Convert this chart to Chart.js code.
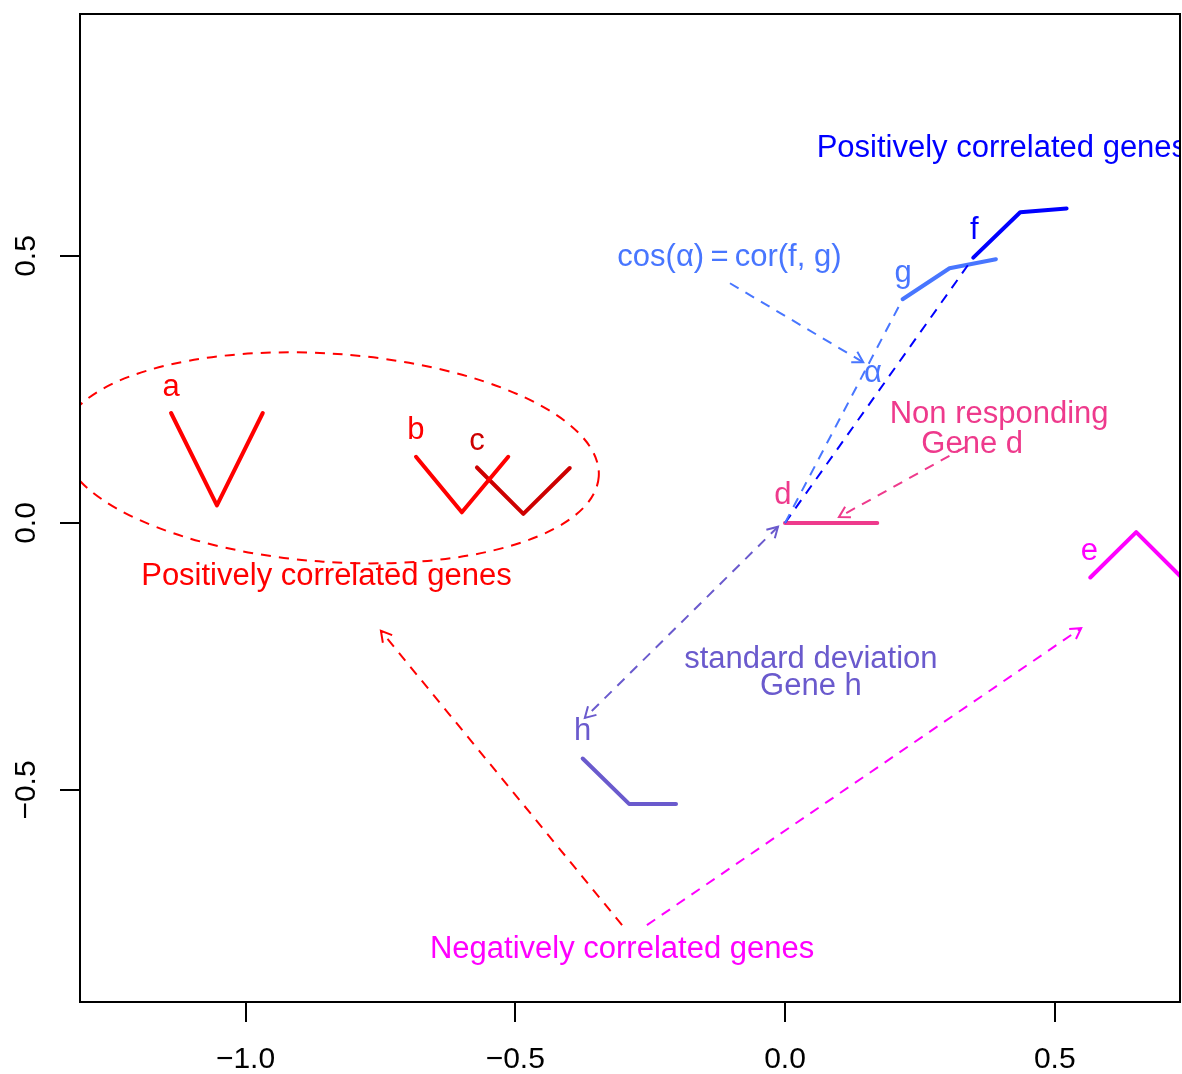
<!DOCTYPE html>
<html>
<head>
<meta charset="utf-8">
<script src="https://cdn.jsdelivr.net/npm/chart.js@4.4.1/dist/chart.umd.min.js"></script>
<style>
  html, body { margin: 0; padding: 0; background: #fff; }
  #wrap { width: 1182px; height: 1074px; }
</style>
</head>
<body>
<div id="wrap"><canvas id="genes"></canvas></div>
<script>
const FONT = '"Liberation Sans", Arial, Helvetica, sans-serif';

// axis ranges and tick positions
const xRange = [-1.3068, 0.7322];
const yRange = [-0.897, 0.9532];
const xTicks = [-1.0, -0.5, 0.0, 0.5];
const yTicks = [-0.5, 0.0, 0.5];

// expression profiles, three conditions per gene
const geneA = [[-1.138, 0.206], [-1.053, 0.033], [-0.968, 0.206]];
const geneB = [[-0.684, 0.124], [-0.599, 0.020], [-0.513, 0.124]];
const geneC = [[-0.571, 0.104], [-0.485, 0.017], [-0.399, 0.103]];
const geneD = [[0.000, 0.000], [0.085, 0.000], [0.171, 0.000]];
const geneE = [[0.566, -0.102], [0.651, -0.017], [0.736, -0.103]];
const geneF = [[0.349, 0.497], [0.436, 0.582], [0.522, 0.589]];
const geneG = [[0.218, 0.419], [0.305, 0.477], [0.391, 0.494]];
const geneH = [[-0.375, -0.441], [-0.289, -0.526], [-0.202, -0.526]];

// vectors from the origin to f and g
const vectorF = [[0, 0], [0.349, 0.497]];
const vectorG = [[0, 0], [0.218, 0.419]];

// arrows: [x0, y0, x1, y1], head at (x1, y1)
const arrowCos = [-0.102, 0.449, 0.145, 0.301];
const arrowD = [0.334, 0.142, 0.100, 0.011];
const arrowH = [-0.013, -0.007, -0.371, -0.365];
const arrowToA = [-0.302, -0.753, -0.749, -0.202];
const arrowToE = [-0.256, -0.753, 0.549, -0.197];

// cluster ellipse: centre x, centre y, semi-axis x, semi-axis y, tilt (deg)
const clusterEllipse = [-0.843, 0.122, 0.499, 0.195, 4];

// text labels: [text, x, y (baseline), colour key]
const labels = [
  ['a', -1.138, 0.238, 'red'],
  ['b', -0.684, 0.157, 'red'],
  ['c', -0.571, 0.137, 'red3'],
  ['d', -0.004, 0.036, 'violet'],
  ['e', 0.564, -0.069, 'magenta'],
  ['f', 0.351, 0.532, 'blue'],
  ['g', 0.219, 0.451, 'royal'],
  ['h', -0.375, -0.406, 'slate'],
  ['\u03b1', 0.163, 0.264, 'royal'],
  ['cos(\u03b1)\u2009=\u2009cor(f, g)', -0.103, 0.481, 'royal'],
  ['Positively correlated genes', 0.402, 0.685, 'blue'],
  ['Positively correlated genes', -0.850, -0.116, 'red'],
  ['Non responding', 0.397, 0.187, 'violet'],
  ['Gene d', 0.347, 0.131, 'violet'],
  ['standard deviation', 0.048, -0.272, 'slate'],
  ['Gene h', 0.048, -0.322, 'slate'],
  ['Negatively correlated genes', -0.302, -0.815, 'magenta'],
];

const COLORS = {
  red: '#FF0000', red3: '#CD0000', violet: '#EE3A8C', magenta: '#FF00FF',
  blue: '#0000FF', royal: '#4876FF', slate: '#6A5ACD',
};
const DASH = [10, 8];

const toPts = arr => arr.map(([x, y]) => ({ x, y }));

function geneLine(data, color) {
  return {
    data: toPts(data), showLine: true, borderColor: color, borderWidth: 4,
    pointRadius: 0, borderCapStyle: 'round', borderJoinStyle: 'round', clip: 0,
  };
}

function dashLine(data, color) {
  return {
    data: toPts(data), showLine: true, borderColor: color, borderWidth: 2,
    borderDash: DASH, pointRadius: 0, borderCapStyle: 'butt', clip: 0,
  };
}

const seg = a => [[a[0], a[1]], [a[2], a[3]]];

const arrows = [
  [arrowCos, COLORS.royal, false],
  [arrowD, COLORS.violet, false],
  [arrowH, COLORS.slate, true],
  [arrowToA, COLORS.red, false],
  [arrowToE, COLORS.magenta, false],
];

function drawHead(ctx, x0, y0, x1, y1) {
  const ang = Math.atan2(y1 - y0, x1 - x0);
  const len = 12, spread = Math.PI / 6;
  ctx.beginPath();
  ctx.moveTo(x1 - len * Math.cos(ang - spread), y1 - len * Math.sin(ang - spread));
  ctx.lineTo(x1, y1);
  ctx.lineTo(x1 - len * Math.cos(ang + spread), y1 - len * Math.sin(ang + spread));
  ctx.stroke();
}

const decorations = {
  id: 'decorations',
  afterDatasetsDraw(chart) {
    const { ctx, chartArea: ca, scales: { x, y } } = chart;

    ctx.save();
    ctx.beginPath();
    ctx.rect(ca.left, ca.top, ca.right - ca.left, ca.bottom - ca.top);
    ctx.clip();

    // dashed ellipse around the positively correlated cluster
    const [ex, ey, ax, ay, tilt] = clusterEllipse;
    const cx = x.getPixelForValue(ex), cy = y.getPixelForValue(ey);
    const rx = Math.abs(x.getPixelForValue(ex + ax) - cx);
    const ry = Math.abs(y.getPixelForValue(ey + ay) - cy);
    ctx.strokeStyle = COLORS.red;
    ctx.lineWidth = 2;
    ctx.setLineDash(DASH);
    ctx.beginPath();
    ctx.ellipse(cx, cy, rx, ry, tilt * Math.PI / 180, 0, Math.PI * 2);
    ctx.stroke();
    ctx.setLineDash([]);

    // arrow heads
    arrows.forEach(([a, color, both]) => {
      const p0 = [x.getPixelForValue(a[0]), y.getPixelForValue(a[1])];
      const p1 = [x.getPixelForValue(a[2]), y.getPixelForValue(a[3])];
      ctx.strokeStyle = color;
      ctx.lineWidth = 2;
      drawHead(ctx, p0[0], p0[1], p1[0], p1[1]);
      if (both) drawHead(ctx, p1[0], p1[1], p0[0], p0[1]);
    });

    // labels
    ctx.font = '31px ' + FONT;
    ctx.textAlign = 'center';
    ctx.textBaseline = 'alphabetic';
    labels.forEach(([text, lx, ly, key]) => {
      ctx.fillStyle = COLORS[key];
      ctx.fillText(text, x.getPixelForValue(lx), y.getPixelForValue(ly));
    });
    ctx.restore();
  },
  afterDraw(chart) {
    const { ctx, chartArea: ca, scales: { x, y } } = chart;
    ctx.save();
    ctx.strokeStyle = '#000';
    ctx.lineWidth = 2;
    ctx.strokeRect(ca.left, ca.top, ca.right - ca.left, ca.bottom - ca.top);

    const fmt = v => (v < 0 ? '\u2212' : '') + Math.abs(v).toFixed(1);
    ctx.fillStyle = '#000';
    ctx.font = '30px ' + FONT;
    ctx.textAlign = 'center';
    ctx.textBaseline = 'alphabetic';
    x.ticks.forEach(t => ctx.fillText(fmt(t.value), x.getPixelForValue(t.value), ca.bottom + 66));
    y.ticks.forEach(t => {
      ctx.save();
      ctx.translate(ca.left - 45, y.getPixelForValue(t.value));
      ctx.rotate(-Math.PI / 2);
      ctx.fillText(fmt(t.value), 0, 0);
      ctx.restore();
    });
    ctx.restore();
  },
};

const axisGrid = { drawOnChartArea: false, drawTicks: true, tickLength: 20, color: '#000', lineWidth: 2 };

new Chart(document.getElementById('genes'), {
  type: 'scatter',
  data: {
    datasets: [
      dashLine(vectorG, COLORS.royal),
      dashLine(vectorF, COLORS.blue),
      ...arrows.map(([a, color]) => dashLine(seg(a), color)),
      geneLine(geneA, COLORS.red),
      geneLine(geneB, COLORS.red),
      geneLine(geneC, COLORS.red3),
      geneLine(geneD, COLORS.violet),
      geneLine(geneE, COLORS.magenta),
      geneLine(geneF, COLORS.blue),
      geneLine(geneG, COLORS.royal),
      geneLine(geneH, COLORS.slate),
    ],
  },
  options: {
    responsive: true, maintainAspectRatio: false, animation: false, events: [],
    layout: { padding: { top: 14, right: 2, left: 0, bottom: 0 } },
    plugins: { legend: { display: false }, tooltip: { enabled: false } },
    scales: {
      x: {
        type: 'linear', min: xRange[0], max: xRange[1],
        afterBuildTicks: s => { s.ticks = xTicks.map(v => ({ value: v })); },
        afterFit: s => { s.height = 72; },
        grid: axisGrid, border: { display: false }, ticks: { display: false },
      },
      y: {
        type: 'linear', min: yRange[0], max: yRange[1],
        afterBuildTicks: s => { s.ticks = yTicks.map(v => ({ value: v })); },
        afterFit: s => { s.width = 80; },
        grid: axisGrid, border: { display: false }, ticks: { display: false },
      },
    },
  },
  plugins: [decorations],
});
</script>
</body>
</html>
